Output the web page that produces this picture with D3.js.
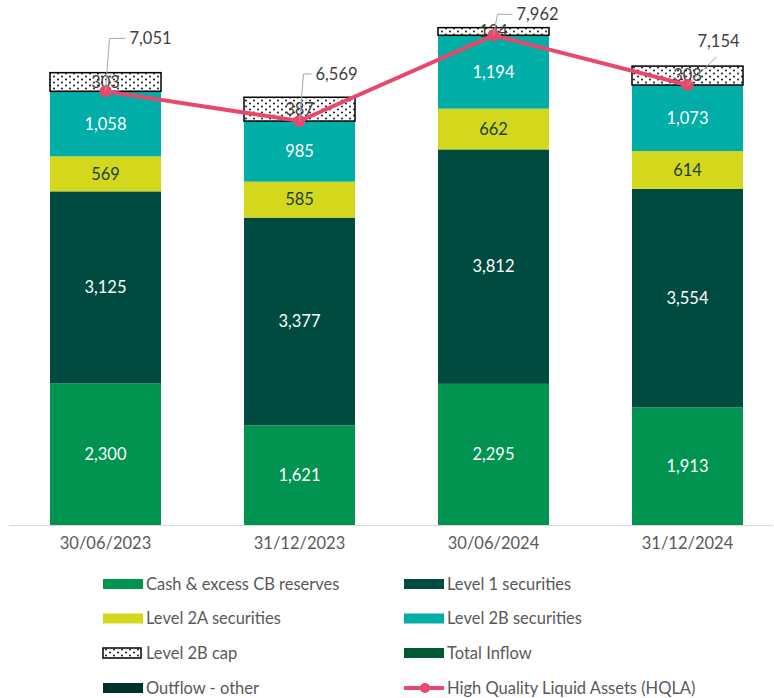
<!DOCTYPE html>
<html><head><meta charset="utf-8">
<script src="https://cdn.jsdelivr.net/npm/d3@7"></script>
<style>body{margin:0;background:#fff}svg{display:block;font-family:Lato,"Open Sans",sans-serif}</style>
</head><body><svg id="c" width="774" height="698"></svg>
<script>
const categories = ["30/06/2023","31/12/2023","30/06/2024","31/12/2024"];
const cashReserves = [2300,1621,2295,1913];
const level1 = [3125,3377,3812,3554];
const level2A = [569,585,662,614];
const level2B = [1058,985,1194,1073];
const level2BCap = [303,387,124,308];
const hqla = [7051,6569,7962,7154];
const legendLabels = ["Cash & excess CB reserves","Level 1 securities","Level 2A securities","Level 2B securities","Level 2B cap","Total Inflow","Outflow - other","High Quality Liquid Assets (HQLA)"];
// label leader offsets (layout)
const hqlaLabelOffsets = [[24,-53],[16,-47],[23,-21],[10,-44]];

const series = [
  {name:"Cash & excess CB reserves", values:cashReserves, fill:"#009450", text:"#ffffff"},
  {name:"Level 1 securities", values:level1, fill:"#004b40", text:"#ffffff"},
  {name:"Level 2A securities", values:level2A, fill:"#d3d81c", text:"#1d3f33"},
  {name:"Level 2B securities", values:level2B, fill:"#00aea7", text:"#ffffff"},
  {name:"Level 2B cap", values:level2BCap, fill:"url(#dots)", text:"#404040", cap:true}
];
const svg = d3.select("#c");
const defs = svg.append("defs");
const pat = defs.append("pattern").attr("id","dots").attr("patternUnits","userSpaceOnUse").attr("width",8).attr("height",6);
pat.append("rect").attr("width",8).attr("height",6).attr("fill","#fff");
pat.append("circle").attr("cx",2).attr("cy",1.5).attr("r",0.9).attr("fill","#000");
pat.append("circle").attr("cx",6).attr("cy",4.5).attr("r",0.9).attr("fill","#000");

const x = d3.scaleBand().domain(categories).range([8.5,784.5]).padding(0);
const barW = 111;
const y = d3.scaleLinear().domain([0,8500]).range([525,2.25]);

const rows = categories.map((c,i)=>{const o={cat:c}; series.forEach(s=>o[s.name]=s.values[i]); return o;});
const stack = d3.stack().keys(series.map(s=>s.name))(rows);

const g = svg.append("g");
stack.forEach((layer,li)=>{
  const s = series[li];
  g.append("g").selectAll("rect").data(layer).join("rect")
    .attr("x",d=>x(d.data.cat)+x.bandwidth()/2-barW/2)
    .attr("width",barW)
    .attr("y",d=>y(d[1]))
    .attr("height",d=>y(d[0])-y(d[1]))
    .attr("fill",s.fill)
    .attr("stroke",s.cap?"#000":"none").attr("stroke-width",s.cap?1.5:0);
});

const xAxis = svg.append("g").attr("transform","translate(0,525)")
  .call(d3.axisBottom(x).tickSize(0).tickPadding(12));
xAxis.select(".domain").attr("stroke","#d9d9d9").attr("d","M9,0.5H773");
xAxis.selectAll("text").attr("font-size",16.5).attr("fill","#595959").attr("font-family","Lato");

const cx = c=>x(c)+x.bandwidth()/2;
const line = d3.line().x((d,i)=>cx(categories[i])).y(d=>y(d));
svg.append("path").datum(hqla).attr("d",line).attr("fill","none").attr("stroke","#e8486b").attr("stroke-width",4);
svg.append("g").selectAll("circle").data(hqla).join("circle")
  .attr("cx",(d,i)=>cx(categories[i])).attr("cy",d=>y(d)).attr("r",6).attr("fill","#e8486b");

stack.forEach((layer,li)=>{
  const s = series[li];
  g.append("g").selectAll("text").data(layer).join("text")
    .attr("x",d=>cx(d.data.cat))
    .attr("y",d=>(y(d[0])+y(d[1]))/2)
    .attr("dy","0.35em").attr("text-anchor","middle")
    .attr("font-size",16.5).attr("fill",s.text)
    .text(d=>d3.format(",")(d[1]-d[0]));
});

const fmt = d3.format(",");
hqla.forEach((v,i)=>{
  const px = cx(categories[i]), py = y(v);
  const [dx,dy] = hqlaLabelOffsets[i];
  const lg = svg.append("g");
  if(i===3){
    lg.append("path").attr("d",`M${px},${py}L${px+29},${py-28}`).attr("stroke","#a6a6a6").attr("fill","none");
  } else {
    lg.append("path").attr("d",`M${px},${py}L${px+4},${py+dy}H${px+dx-4}`).attr("stroke","#a6a6a6").attr("fill","none");
  }
  lg.append("text").attr("x",px+dx).attr("y",py+dy).attr("dy","0.35em")
    .attr("font-size",16.5).attr("fill","#404040").text(fmt(v));
});

const legItems = [
  {label:legendLabels[0], type:"rect", fill:"#009450"},
  {label:legendLabels[1], type:"rect", fill:"#004b40"},
  {label:legendLabels[2], type:"rect", fill:"#d3d81c"},
  {label:legendLabels[3], type:"rect", fill:"#00aea7"},
  {label:legendLabels[4], type:"cap", fill:"url(#dots)"},
  {label:legendLabels[5], type:"rect", fill:"#005a32"},
  {label:legendLabels[6], type:"rect", fill:"#00302a"},
  {label:legendLabels[7], type:"line", fill:"#e8486b"}
];
const legX = [103,404], legY = [584,618.5,653,688];
legItems.forEach((it,i)=>{
  const lx = legX[i%2], ly = legY[Math.floor(i/2)];
  const lg = svg.append("g");
  if(it.type==="line"){
    lg.append("line").attr("x1",lx).attr("x2",lx+40).attr("y1",ly).attr("y2",ly).attr("stroke",it.fill).attr("stroke-width",4);
    lg.append("circle").attr("cx",lx+21).attr("cy",ly).attr("r",5).attr("fill",it.fill);
  } else {
    lg.append("rect").attr("x",lx).attr("y",ly-5).attr("width",it.type==="cap"?38:40).attr("height",10)
      .attr("fill",it.fill).attr("stroke",it.type==="cap"?"#000":"none").attr("stroke-width",1.5);
  }
  lg.append("text").attr("x",lx+43).attr("y",ly).attr("dy","0.35em").attr("font-size",16.5).attr("fill","#595959").text(it.label);
});
</script></body></html>
